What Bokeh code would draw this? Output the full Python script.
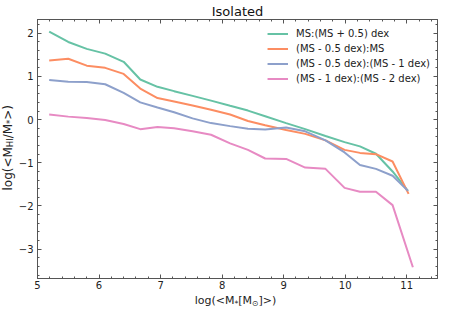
from bokeh.plotting import figure
from bokeh.models import Range1d, LinearAxis, SingleIntervalTicker, CustomJSTickFormatter, Div
from bokeh.layouts import column, row
from bokeh.embed import file_html
from bokeh.resources import INLINE

# ---- data ----
x_common = [5.19, 5.5, 5.8, 6.1, 6.4, 6.67, 6.95, 7.22, 7.52, 7.82, 8.13, 8.42,
            8.70, 9.04, 9.35, 9.68, 9.99, 10.24, 10.5, 10.77]
x_end_green = 11.02
x_end_orange = 11.03
x_end_blue = 11.02
x_end_pink = 11.10

y_green = [2.04, 1.80, 1.64, 1.53, 1.34, 0.93, 0.76, 0.66, 0.55, 0.44, 0.32, 0.21,
           0.08, -0.08, -0.22, -0.38, -0.52, -0.62, -0.79, -1.20, -1.65]
y_orange = [1.37, 1.41, 1.25, 1.20, 1.06, 0.72, 0.50, 0.42, 0.33, 0.23, 0.12, -0.03,
            -0.13, -0.24, -0.33, -0.48, -0.70, -0.77, -0.80, -0.97, -1.72]
y_blue = [0.92, 0.88, 0.87, 0.82, 0.62, 0.40, 0.28, 0.17, 0.03, -0.08, -0.15, -0.21,
          -0.23, -0.18, -0.27, -0.48, -0.76, -1.05, -1.14, -1.30, -1.65]
y_pink = [0.12, 0.07, 0.04, -0.01, -0.10, -0.22, -0.17, -0.20, -0.27, -0.35, -0.55, -0.70,
          -0.90, -0.91, -1.11, -1.14, -1.58, -1.67, -1.67, -1.98, -3.42]

series_labels = ["MS:(MS + 0.5) dex", "(MS - 0.5 dex):MS",
                 "(MS - 0.5 dex):(MS - 1 dex)", "(MS - 1 dex):(MS - 2 dex)"]
series_colors = ["#66c2a5", "#fc8d62", "#8da0cb", "#e78ac3"]

xticks = [5, 6, 7, 8, 9, 10, 11]
xtick_labels = ["5", "6", "7", "8", "9", "10", "11"]
yticks = [-3, -2, -1, 0, 1, 2]
ytick_labels = ["\u22123", "\u22122", "\u22121", "0", "1", "2"]

title_text = "Isolated"
ylabel_html = "log(&lt;M<sub>HI</sub>/M<sub>*</sub>&gt;)"
xlabel_html = "log(&lt;M<sub>*</sub>[M<sub>\u2299</sub>]&gt;)"

FONT = "DejaVu Sans"
AXC = "#555555"
TXC = "#222222"

TOTAL_W, TOTAL_H = 441, 308
YLAB_W = 15
XLAB_H = 14
W, H = TOTAL_W - YLAB_W, TOTAL_H - XLAB_H
BL, BR, BT, BB = 19, 4, 18, 16
FH = H - BT - BB

p = figure(width=W, height=H, output_backend="svg", toolbar_location=None,
           x_range=Range1d(5, 11.5), y_range=Range1d(-3.68, 2.32),
           min_border_left=BL, min_border_right=BR, min_border_top=BT, min_border_bottom=BB)
p.background_fill_color = "white"
p.border_fill_color = "white"
p.xgrid.visible = False
p.ygrid.visible = False
p.outline_line_color = AXC

p.title.text = title_text
p.title.align = "center"
p.title.text_font = FONT
p.title.text_font_size = "13px"
p.title.text_font_style = "normal"
p.title.text_color = "#111111"
p.title.standoff = 2

xs_all = [x_common + [x_end_green], x_common + [x_end_orange],
          x_common + [x_end_blue], x_common + [x_end_pink]]
ys_all = [y_green, y_orange, y_blue, y_pink]
for xs, ys, lab, col in zip(xs_all, ys_all, series_labels, series_colors):
    p.line(xs, ys, line_color=col, line_width=2, legend_label=lab)


def style_axis(ax, show_labels):
    ax.ticker = SingleIntervalTicker(interval=1, num_minor_ticks=5)
    ax.axis_line_color = AXC
    ax.major_tick_line_color = AXC
    ax.minor_tick_line_color = AXC
    ax.major_tick_in = 4
    ax.major_tick_out = 0
    ax.minor_tick_in = 2
    ax.minor_tick_out = 0
    ax.major_label_text_font = FONT
    ax.major_label_text_font_size = "10px"
    ax.major_label_text_color = TXC
    if not show_labels:
        ax.formatter = CustomJSTickFormatter(code="return ''")
        ax.major_label_standoff = 0


style_axis(p.xaxis[0], True)
p.xaxis[0].major_label_standoff = 2
p.xaxis[0].major_label_overrides = {v: s for v, s in zip(xticks, xtick_labels)}
style_axis(p.yaxis[0], True)
p.yaxis[0].major_label_standoff = 4
p.yaxis[0].major_label_overrides = {v: s for v, s in zip(yticks, ytick_labels)}

top_ax = LinearAxis()
style_axis(top_ax, False)
p.add_layout(top_ax, "above")
right_ax = LinearAxis()
style_axis(right_ax, False)
p.add_layout(right_ax, "right")

# legend
lg = p.legend[0]
lg.location = "top_right"
lg.background_fill_alpha = 0
lg.border_line_alpha = 0
lg.label_text_font = FONT
lg.label_text_font_size = "10px"
lg.label_text_color = TXC
lg.glyph_width = 21
lg.glyph_height = 15
lg.label_height = 15
lg.label_standoff = 8
lg.spacing = 0
lg.margin = 4
lg.padding = 3

# axis labels with subscripts, as HTML text
sub_css = "font-size:70%;vertical-align:-0.25em;line-height:0;"
ylab_inner = ylabel_html.replace("<sub>", f"<span style='{sub_css}'>").replace("</sub>", "</span>")
xlab_inner = xlabel_html.replace("<sub>", f"<span style='{sub_css}'>").replace("</sub>", "</span>")

ydiv = Div(
    text=(f"<div style='margin-top:{BT}px;height:{FH}px;width:{YLAB_W}px;display:flex;"
          f"align-items:center;justify-content:flex-end;'>"
          f"<span style=\"writing-mode:vertical-rl;transform:rotate(180deg);"
          f"font-family:'{FONT}';font-size:12px;color:{TXC};white-space:nowrap;line-height:14px;\">"
          f"{ylab_inner}</span></div>"),
    width=YLAB_W, height=H, margin=0)

frame_center = YLAB_W + BL + (W - BL - BR) / 2
xdiv = Div(
    text=(f"<div style='width:{TOTAL_W}px;height:{XLAB_H}px;position:relative;'>"
          f"<span style=\"position:absolute;left:{frame_center:.1f}px;top:0px;"
          f"transform:translateX(-50%);font-family:'{FONT}';font-size:11px;color:{TXC};"
          f"white-space:nowrap;line-height:13px;\">{xlab_inner}</span></div>"),
    width=TOTAL_W, height=XLAB_H, margin=0)

layout = column(row(ydiv, p, spacing=0), xdiv, spacing=0)

open("out.html", "w").write(file_html(layout, INLINE))
